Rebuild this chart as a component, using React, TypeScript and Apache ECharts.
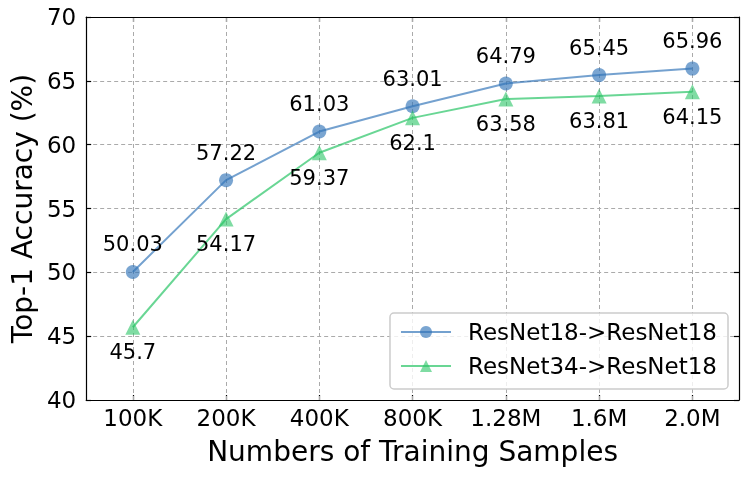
import React, { useEffect, useRef } from "react";
import * as echarts from "echarts";

const categories = ["100K", "200K", "400K", "800K", "1.28M", "1.6M", "2.0M"];
const resnet18 = [50.03, 57.22, 61.03, 63.01, 64.79, 65.45, 65.96];
const resnet34 = [45.7, 54.17, 59.37, 62.1, 63.58, 63.81, 64.15];
const seriesNames = ["ResNet18->ResNet18", "ResNet34->ResNet18"];

const FONT = "DejaVu Sans";
const BLUE_LINE = "rgba(50,116,184,0.68)";
const BLUE_MARK = "rgba(50,116,184,0.65)";
const GREEN_LINE = "rgba(41,196,102,0.7)";
const GREEN_MARK = "rgba(41,196,102,0.6)";

export default function App() {
  const ref = useRef<HTMLDivElement>(null);
  useEffect(() => {
    if (!ref.current) return;
    const chart = echarts.init(ref.current, undefined, { renderer: "svg" });
    const axisLine = { show: true, lineStyle: { color: "#000", width: 1.2 } };
    const tick = { show: true, inside: true, length: 5, lineStyle: { color: "#000", width: 1.2 } };
    chart.setOption({
      animation: false,
      textStyle: { fontFamily: FONT },
      grid: { left: 83, right: 9, top: 17, bottom: 77, containLabel: false },
      legend: {
        orient: "vertical",
        right: 20,
        bottom: 88,
        data: seriesNames,
        itemWidth: 50,
        itemHeight: 15,
        itemGap: 8,
        padding: [6, 11, 10, 10],
        backgroundColor: "rgba(255,255,255,0.8)",
        borderColor: "#cccccc",
        borderWidth: 1.5,
        borderRadius: 4,
        textStyle: { fontFamily: FONT, fontSize: 23, color: "#000", lineHeight: 26, padding: [0, 0, 0, 12] },
      },
      xAxis: [
        {
          type: "category",
          data: categories,
          boundaryGap: true,
          position: "bottom",
          axisLine,
          axisTick: { ...tick, alignWithLabel: true },
          axisLabel: { interval: 0, fontFamily: FONT, fontSize: 23, color: "#000", margin: 6 },
          splitLine: { show: false },
          name: "Numbers of Training Samples",
          nameLocation: "middle",
          nameGap: 37,
          nameTextStyle: { fontFamily: FONT, fontSize: 28, color: "#000" },
        },
        {
          type: "category",
          data: categories,
          boundaryGap: true,
          position: "top",
          axisLine,
          axisTick: { ...tick, alignWithLabel: true, interval: 0 },
          axisLabel: { show: false },
          splitLine: { show: false },
        },
      ],
      yAxis: [
        {
          type: "value",
          min: 40,
          max: 70,
          interval: 5,
          position: "left",
          axisLine,
          axisTick: tick,
          axisLabel: { fontFamily: FONT, fontSize: 23, color: "#000", margin: 10 },
          splitLine: { show: true, lineStyle: { color: "#aaaaaa", type: [4, 3], width: 1 } },
          name: "Top-1 Accuracy (%)",
          nameLocation: "middle",
          nameGap: 47,
          nameTextStyle: { fontFamily: FONT, fontSize: 28, color: "#000" },
        },
        {
          type: "value",
          min: 40,
          max: 70,
          interval: 5,
          position: "right",
          axisLine,
          axisTick: tick,
          axisLabel: { show: false },
          splitLine: { show: false },
        },
      ],
      series: [
        {
          name: seriesNames[0],
          type: "line",
          data: resnet18,
          symbol: "circle",
          symbolSize: 14,
          z: 3,
          lineStyle: { color: BLUE_LINE, width: 2 },
          itemStyle: { color: BLUE_MARK },
          label: { show: true, position: "top", distance: 10, fontFamily: FONT, fontSize: 21, color: "#000" },
          markLine: {
            silent: true,
            symbol: "none",
            label: { show: false },
            z: 1,
            lineStyle: { color: "#aaaaaa", type: [4, 3], width: 1 },
            data: categories.map((c) => ({ xAxis: c })),
          },
        },
        {
          name: seriesNames[1],
          type: "line",
          data: resnet34,
          symbol: "triangle",
          symbolSize: 15,
          z: 3,
          lineStyle: { color: GREEN_LINE, width: 2 },
          itemStyle: { color: GREEN_MARK },
          label: { show: true, position: "bottom", distance: 7, fontFamily: FONT, fontSize: 21, color: "#000" },
        },
      ],
    });
    return () => chart.dispose();
  }, []);
  return <div ref={ref} style={{ position: "fixed", left: 0, top: 0, width: 748, height: 477 }} />;
}
